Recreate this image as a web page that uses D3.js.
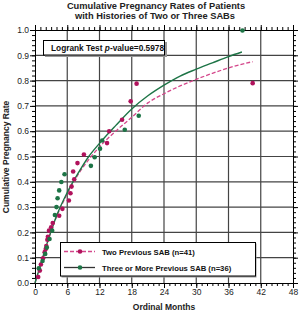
<!DOCTYPE html>
<html>
<head>
<script src="https://d3js.org/d3.v7.min.js"></script>
<style>
  body { margin: 0; background: #fff; }
  svg { display: block; font-family: "Liberation Sans", Arial, sans-serif; }
</style>
</head>
<body>
<div id="chart"></div>
<script>
// data: [month, cumulative rate]
var twoPoints = [[0.6,0.024],[0.9,0.049],[1.1,0.073],[1.5,0.098],[1.8,0.122],[2.0,0.134],[2.1,0.146],
  [2.3,0.171],[2.4,0.183],[2.6,0.207],[3.0,0.22],[3.3,0.237],[4.5,0.266],[5.1,0.293],[6.3,0.326],
  [6.6,0.355],[6.8,0.381],[7.3,0.41],[7.1,0.441],[7.9,0.474],[9.1,0.508],[13.4,0.553],[13.8,0.6],
  [16.2,0.645],[17.8,0.718],[18.9,0.788],[40.5,0.79]];
var threePoints = [[0.7,0.058],[1.4,0.087],[1.9,0.115],[2.2,0.14],[2.7,0.174],[3.2,0.207],[3.7,0.269],
  [4.0,0.3],[4.2,0.335],[4.5,0.366],[4.9,0.399],[5.5,0.43],[10.4,0.463],[11.1,0.497],[12.1,0.531],
  [12.5,0.563],[16.7,0.606],[19.3,0.661],[38.6,0.998]];
var twoCurve = [[0,0],[1,0.07],[2,0.14],[3,0.205],[4,0.262],[6,0.352],[8,0.428],[10,0.488],[12,0.538],
  [15,0.6],[18,0.655],[21,0.712],[24,0.748],[27,0.779],[30,0.805],[33,0.829],[36,0.85],[40.5,0.875]];
var threeCurve = [[0,0],[1,0.07],[2,0.14],[3,0.205],[4,0.265],[6,0.358],[8,0.433],[10,0.5],[12,0.552],
  [15,0.622],[18,0.688],[21,0.74],[24,0.782],[27,0.818],[30,0.845],[33,0.87],[36,0.895],[38.5,0.913]];
var xTicks = [0, 6, 12, 18, 24, 30, 36, 42, 48];
var yTicks = [0, 0.1, 0.2, 0.3, 0.4, 0.5, 0.6, 0.7, 0.8, 0.9, 1.0];
var seriesNames = ["Two Previous SAB (n=41)", "Three or More Previous SAB (n=36)"];

var W = 300, H = 314;
var padL = 35, padR = 293, padT = 30, padB = 283;
var magenta = "#b0125c", pink = "#d4478b", green = "#1d7446";

var svg = d3.select("#chart").append("svg").attr("width", W).attr("height", H);

var x = d3.scaleLinear().domain([0, 48]).range([padL, padR]);
var y = d3.scaleLinear().domain([0, 1]).range([padB, padT]);

// grid
svg.append("g").selectAll("line").data(xTicks.slice(1, -1)).enter().append("line")
  .attr("x1", d => x(d)).attr("x2", d => x(d)).attr("y1", padT).attr("y2", padB)
  .attr("stroke", "#444").attr("stroke-width", 1.2);
svg.append("g").selectAll("line").data(yTicks.slice(1, -1)).enter().append("line")
  .attr("y1", d => y(d)).attr("y2", d => y(d)).attr("x1", padL).attr("x2", padR)
  .attr("stroke", "#444").attr("stroke-width", 1.2);

// axes with minor ticks, on all four sides
var xMinor = d3.range(0, 49, 1), yMinor = d3.range(0, 1.001, 0.02);
function axisGroup(axis, tr) {
  var g = svg.append("g").attr("transform", tr).call(axis);
  g.select(".domain").attr("stroke", "#000").attr("stroke-width", 1);
  g.selectAll(".tick line").attr("stroke", "#000");
  g.attr("font-family", null);
  return g;
}
axisGroup(d3.axisBottom(x).tickValues(xMinor).tickSize(3).tickFormat(""), "translate(0," + padB + ")");
axisGroup(d3.axisTop(x).tickValues(xMinor).tickSize(3).tickFormat(""), "translate(0," + padT + ")");
axisGroup(d3.axisLeft(y).tickValues(yMinor).tickSize(3).tickFormat(""), "translate(" + padL + ",0)");
axisGroup(d3.axisRight(y).tickValues(yMinor).tickSize(3).tickFormat(""), "translate(" + padR + ",0)");

var xl = axisGroup(d3.axisBottom(x).tickValues(xTicks).tickSize(5).tickFormat(d3.format("d")), "translate(0," + padB + ")");
xl.selectAll("text").attr("font-size", "8.5px").attr("fill", "#222").attr("dy", "0.75em").attr("y", 6);
var yl = axisGroup(d3.axisLeft(y).tickValues(yTicks).tickSize(5).tickFormat(d3.format(".1f")), "translate(" + padL + ",0)");
yl.selectAll("text").attr("font-size", "8.5px").attr("fill", "#222").attr("x", -6);
axisGroup(d3.axisTop(x).tickValues(xTicks).tickSize(5).tickFormat(""), "translate(0," + padT + ")");
axisGroup(d3.axisRight(y).tickValues(yTicks).tickSize(5).tickFormat(""), "translate(" + padR + ",0)");

// curves
var line = d3.line().x(d => x(d[0])).y(d => y(d[1])).curve(d3.curveMonotoneX);
svg.append("path").datum(twoCurve).attr("d", line).attr("fill", "none")
  .attr("stroke", pink).attr("stroke-width", 1.3).attr("stroke-dasharray", "4,2");
svg.append("path").datum(threeCurve).attr("d", line).attr("fill", "none")
  .attr("stroke", green).attr("stroke-width", 1.4);

// points
svg.append("g").selectAll("circle").data(twoPoints).enter().append("circle")
  .attr("cx", d => x(d[0])).attr("cy", d => y(d[1])).attr("r", 2.3).attr("fill", magenta);
svg.append("g").selectAll("circle").data(threePoints).enter().append("circle")
  .attr("cx", d => x(d[0])).attr("cy", d => y(d[1])).attr("r", 2.3).attr("fill", green);

// title
svg.append("text").attr("x", 156).attr("y", 9).attr("text-anchor", "middle")
  .attr("font-size", "9.3px").attr("font-weight", "bold").attr("fill", "#222")
  .text("Cumulative Pregnancy Rates of Patients");
svg.append("text").attr("x", 155).attr("y", 19).attr("text-anchor", "middle")
  .attr("font-size", "9.3px").attr("font-weight", "bold").attr("fill", "#222")
  .text("with Histories of Two or Three SABs");

// axis titles
svg.append("text").attr("transform", "translate(9,157) rotate(-90)").attr("text-anchor", "middle")
  .attr("font-size", "8.5px").attr("font-weight", "bold").attr("fill", "#222")
  .text("Cumulative Pregnancy Rate");
svg.append("text").attr("x", 164).attr("y", 310).attr("text-anchor", "middle")
  .attr("font-size", "8.5px").attr("font-weight", "bold").attr("fill", "#222")
  .text("Ordinal Months");

// logrank box
svg.append("rect").attr("x", 45).attr("y", 42).attr("width", 122).attr("height", 15).attr("fill", "#999");
svg.append("rect").attr("x", 43.5).attr("y", 40.5).attr("width", 121).attr("height", 14.5)
  .attr("fill", "#fff").attr("stroke", "#000").attr("stroke-width", 1);
var lt = svg.append("text").attr("x", 51).attr("y", 51).attr("font-size", "8.3px")
  .attr("font-weight", "bold").attr("fill", "#111");
lt.append("tspan").text("Logrank Test ");
lt.append("tspan").attr("font-style", "italic").text("p");
lt.append("tspan").text("-value=0.5978");

// legend
svg.append("rect").attr("x", 61.5).attr("y", 243.5).attr("width", 195).attr("height", 34).attr("fill", "#999");
svg.append("rect").attr("x", 60.5).attr("y", 242.5).attr("width", 195).attr("height", 33.5)
  .attr("fill", "#fff").attr("stroke", "#000").attr("stroke-width", 1);
var leg = svg.append("g").selectAll("g").data(seriesNames).enter().append("g")
  .attr("transform", (d, i) => "translate(0," + (251.5 + i * 16) + ")");
leg.append("line").attr("x1", 64).attr("x2", 95).attr("y1", 0).attr("y2", 0)
  .attr("stroke", (d, i) => i ? "#333" : pink).attr("stroke-width", 1.3)
  .attr("stroke-dasharray", (d, i) => i ? null : "4,2");
leg.append("circle").attr("cx", 80).attr("cy", 0).attr("r", 2.3)
  .attr("fill", (d, i) => i ? green : magenta);
leg.append("text").attr("x", 102).attr("y", 3).attr("font-size", "7.7px").attr("font-weight", "bold")
  .attr("fill", "#111").text(d => d);
</script>
</body>
</html>
